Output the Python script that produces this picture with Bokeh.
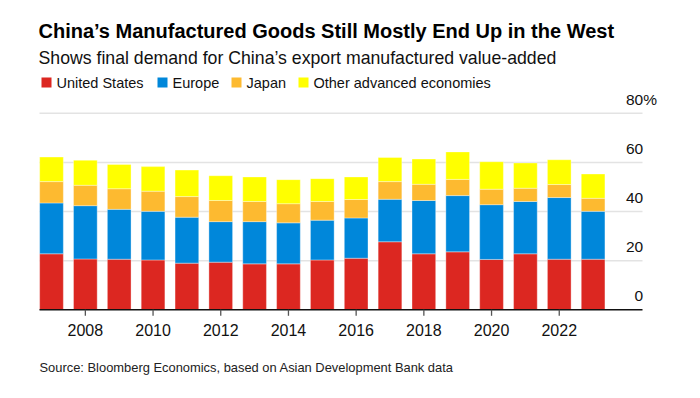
from bokeh.plotting import figure
from bokeh.models import ColumnDataSource, Range1d
from bokeh.core.properties import value
from bokeh.embed import file_html
from bokeh.resources import INLINE

years = list(range(2007, 2024))
us = [22.8, 20.7, 20.6, 20.3, 19.0, 19.4, 18.7, 18.7, 20.3, 21.0, 27.7, 22.8, 23.6, 20.5, 22.8, 20.6, 20.6]
europe = [20.7, 21.7, 20.3, 19.8, 18.7, 16.5, 17.2, 16.7, 16.2, 16.4, 17.3, 21.7, 22.9, 22.3, 21.3, 25.1, 19.5]
japan = [8.7, 8.3, 8.4, 8.2, 8.4, 8.6, 8.2, 7.8, 7.6, 7.5, 7.2, 6.6, 6.6, 6.3, 5.4, 5.3, 5.3]
other = [10.0, 10.2, 9.9, 10.0, 10.8, 10.1, 10.0, 9.8, 9.3, 9.2, 9.8, 10.3, 11.2, 11.2, 10.3, 10.1, 9.9]

series = ["United States", "Europe", "Japan", "Other advanced economies"]
colors = ["#dc2721", "#0087da", "#fdba30", "#ffff00"]
x_ticks = [2008, 2010, 2012, 2014, 2016, 2018, 2020, 2022]
x_tick_labels = [str(t) for t in x_ticks]
y_ticks = [0, 20, 40, 60, 80]
y_tick_labels = ["0", "20", "40", "60", "80"]

title = "China\u2019s Manufactured Goods Still Mostly End Up in the West"
subtitle = "Shows final demand for China\u2019s export manufactured value-added"
source_note = "Source: Bloomberg Economics, based on Asian Development Bank data"

FONT = value("Liberation Sans")
W, H = 684, 382
PXX = 33.85           # pixels per year
PXY = 2.456           # pixels per percentage point
X0_PX, Y0_PX = 51, 309.3   # pixel position of first year / zero line
x_start = years[0] - X0_PX / PXX
x_end = x_start + W / PXX
y_end = Y0_PX / PXY
y_start = y_end - H / PXY

def X(px):
    return x_start + px / PXX

def Y(py):
    return y_end - py / PXY

src = ColumnDataSource(dict(year=years, **{series[0]: us, series[1]: europe,
                                           series[2]: japan, series[3]: other}))

p = figure(width=W, height=H, output_backend="svg", toolbar_location=None,
           x_range=Range1d(x_start, x_end), y_range=Range1d(y_start, y_end),
           min_border=0, x_axis_type=None, y_axis_type=None)
p.outline_line_color = None
p.grid.visible = False
p.background_fill_color = "white"
p.border_fill_color = "white"

plot_left, plot_right = X(39), X(642)

# gridlines
p.segment(x0=[plot_left] * 4, x1=[plot_right] * 4, y0=y_ticks[1:], y1=y_ticks[1:],
          line_color="#e3e3e3", line_width=1.5)

p.vbar_stack(series, x="year", width=0.7, color=colors, source=src,
             line_color="white", line_alpha=0.35, line_width=1)

# baseline axis and ticks
p.segment(x0=[plot_left], x1=[plot_right], y0=[0], y1=[0], line_color="#111111", line_width=1.4)
p.segment(x0=x_ticks, x1=x_ticks, y0=[0] * len(x_ticks), y1=[-6 / PXY] * len(x_ticks),
          line_color="#555555", line_width=1.3)
p.text(x=x_ticks, y=[Y(329)] * len(x_ticks), text=x_tick_labels, text_font=FONT,
       text_font_size="16px", text_color="#111111", text_align="center",
       text_baseline="middle")

# y tick labels above gridlines at right
p.text(x=[X(642.7)] * len(y_ticks), y=[t + 13.5 / PXY for t in y_ticks], text=y_tick_labels,
       text_font=FONT, text_font_size="15.5px", text_color="#111111", text_align="right",
       text_baseline="middle")
p.text(x=[X(642.7)], y=[y_ticks[-1] + 13.5 / PXY], text=["%"], text_font=FONT,
       text_font_size="15.5px", text_color="#111111", text_align="left", text_baseline="middle")

# header
p.text(x=[X(38)], y=[Y(30)], text=[title], text_font=FONT, text_font_size="20px",
       text_font_style="bold", text_color="#000000", text_baseline="middle")
p.text(x=[X(38)], y=[Y(57)], text=[subtitle], text_font=FONT, text_font_size="17.7px",
       text_color="#111111", text_baseline="middle")

leg_px = [41, 157, 231, 298]
p.rect(x=[X(v + 5) for v in leg_px], y=[Y(82)] * 4, width=10, height=10,
       width_units="screen", height_units="screen", color=colors, line_color=None)
p.text(x=[X(v + 15) for v in leg_px], y=[Y(82)] * 4, text=series, text_font=FONT,
       text_font_size="14.5px", text_color="#111111", text_baseline="middle")

p.text(x=[X(39)], y=[Y(367)], text=[source_note], text_font=FONT, text_font_size="12.9px",
       text_color="#222222", text_baseline="middle")

open("out.html", "w").write(file_html(p, INLINE))
